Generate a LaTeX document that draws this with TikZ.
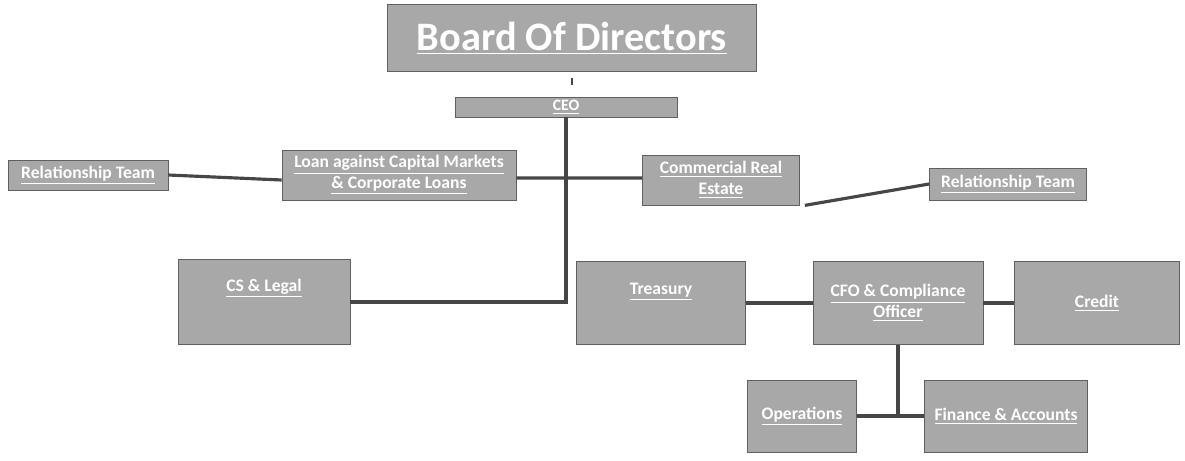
\documentclass[tikz,border=0pt]{standalone}
\usepackage{fontspec}
\setmainfont{Carlito}
\usepackage{tikz}
\usetikzlibrary{positioning}

\begin{document}
\begin{tikzpicture}[x=0.2mm,y=-0.2mm,
  unit/.style={rectangle,fill=gray!68,draw=gray!75!black,line width=0.4pt,
    text=white,font=\bfseries\fontsize{10}{12}\selectfont,align=center,inner sep=1pt},
  link/.style={draw=gray!55!black,line width=1.8pt}]
\useasboundingbox (0,0) rectangle (1185,461);
% top of the chart
\node[unit,minimum width=73.8mm,minimum height=13.4mm,font=\bfseries\fontsize{23}{26}\selectfont] (board) at (572,38) {\underline{Board Of Directors}};
\node[unit,minimum width=44.4mm,minimum height=4mm,font=\bfseries\fontsize{9}{10}\selectfont] (ceo) at (566,107) {\underline{CEO}};
% first row
\node[unit,minimum width=32mm,minimum height=6mm] (relA) at (88,175) {\underline{Relationship Team}};
\node[unit,minimum width=46.8mm,minimum height=10mm] (loan) at (399,175) {\underline{Loan against Capital Markets}\\\underline{\& Corporate Loans}};
\node[unit,minimum width=31.4mm,minimum height=10mm] (cre) at (721,180) {\underline{Commercial Real}\\\underline{Estate}};
\node[unit,minimum width=31.4mm,minimum height=6.4mm] (relB) at (1008,184) {\underline{Relationship Team}};
% second row
\node[unit,minimum width=34.4mm,minimum height=17mm] (legal) at (264,302) {\underline{CS \& Legal}\\[2.6mm]};
\node[unit,minimum width=33.8mm,minimum height=16.6mm] (treasury) at (661,303) {\underline{Treasury}\\[1.6mm]};
\node[unit,minimum width=34mm,minimum height=16.6mm] (cfo) at (898,303) {\underline{CFO \& Compliance}\\\underline{Officer}};
\node[unit,minimum width=33mm,minimum height=16.6mm] (credit) at (1097,303) {\underline{Credit}};
% third row
\node[unit,minimum width=21.8mm,minimum height=14.4mm] (ops) at (802,416) {\underline{Operations}};
\node[unit,minimum width=32.6mm,minimum height=14.4mm] (finance) at (1006,416) {\underline{Finance \& Accounts}};
% connectors
\coordinate (stubA) at ([yshift=-1.2mm]board.south);
\coordinate (stubB) at ([yshift=-2.6mm]board.south);
\draw[link,line width=1pt] (stubA) -- (stubB);
\draw[link] (ceo.south) |- (legal.east);
\draw[link] (relA.east) -- ([yshift=-1mm]loan.west);
\draw[link] ([yshift=-0.6mm]loan.east) -- ([yshift=0.4mm]cre.west);
\draw[link] ([xshift=1mm]cre.south east) -- (relB.west);
\draw[link] (treasury) -- (cfo);
\draw[link] (cfo) -- (credit);
\draw[link] (ops) -- (finance);
\draw[link] (cfo.south) -- (cfo.south |- ops.east);
\end{tikzpicture}
\end{document}
